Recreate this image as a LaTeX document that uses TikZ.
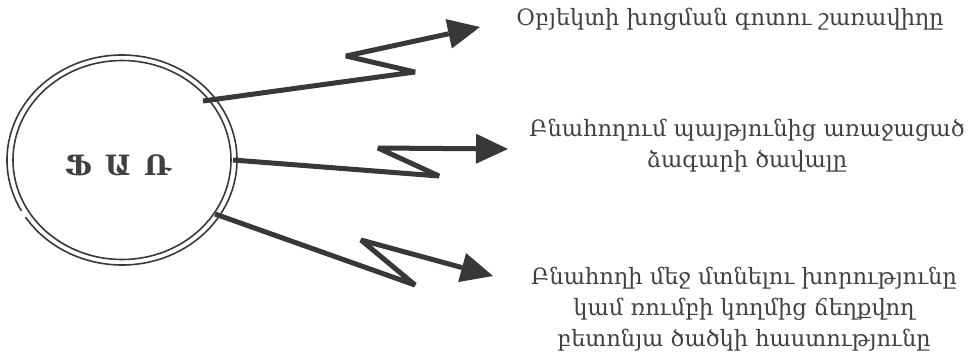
\documentclass[tikz,border=0pt]{standalone}
\usepackage{fontspec}
\setmainfont{DejaVu Serif}
\usetikzlibrary{arrows.meta}
\definecolor{ink}{HTML}{383838}
\definecolor{txt}{HTML}{404040}
\tikzset{
  ring/.style={draw=ink, line width=1.6pt},
  zig/.style={draw=ink, line width=5pt, line join=bevel,
    -{Triangle[length=32pt,width=30pt,line width=0pt]}},
  lbl/.style={text=txt, inner sep=0pt, align=center, font=\fontsize{22.5}{31}\selectfont},
  core/.style={text=txt, inner sep=0pt, font=\fontsize{28}{30}\selectfont\bfseries}
}
\begin{document}
\begin{tikzpicture}[x=1pt,y=-1pt]
\useasboundingbox (0,0) rectangle (975,362);
% double ring
\coordinate (c) at (122,160);
\draw[ring] (c) ++(213:115pt and 105pt) arc[start angle=213, end angle=569, x radius=115pt, y radius=105pt];
\draw[ring] (c) ellipse [x radius=109pt, y radius=99.5pt];
\node[core] (far) at (118,165) {Ֆ\hspace{13pt}Ա\hspace{13pt}Ռ};
% arrow 1
\coordinate (s1) at (203,101);
\coordinate (p1) at (415,72);
\coordinate (q1) at (346,56);
\coordinate (e1) at (480,27);
\draw[zig] (s1) -- (p1) -- (q1) -- (e1);
% arrow 2
\coordinate (s2) at (233,160);
\coordinate (p2) at (439,176);
\coordinate (q2) at (378,148);
\coordinate (e2) at (508,149);
\draw[zig] (s2) -- (p2) -- (q2) -- (e2);
% arrow 3
\coordinate (s3) at (215,214);
\coordinate (p3) at (415,285);
\coordinate (q3) at (361,240);
\coordinate (e3) at (493,276);
\draw[zig] (s3) -- (p3) -- (q3) -- (e3);
% labels
\node[lbl] (t1) at (730,19) {Օբյեկտի խոցման գոտու շառավիղը};
\node[lbl] (t2) at (747,146) {Բնահողում պայթյունից առաջացած\\ձագարի ծավալը};
\node[lbl] (t3) at (744,309) {Բնահողի մեջ մտնելու խորությունը\\կամ ռումբի կողմից ճեղքվող\\բետոնյա ծածկի հաստությունը};
\end{tikzpicture}
\end{document}
